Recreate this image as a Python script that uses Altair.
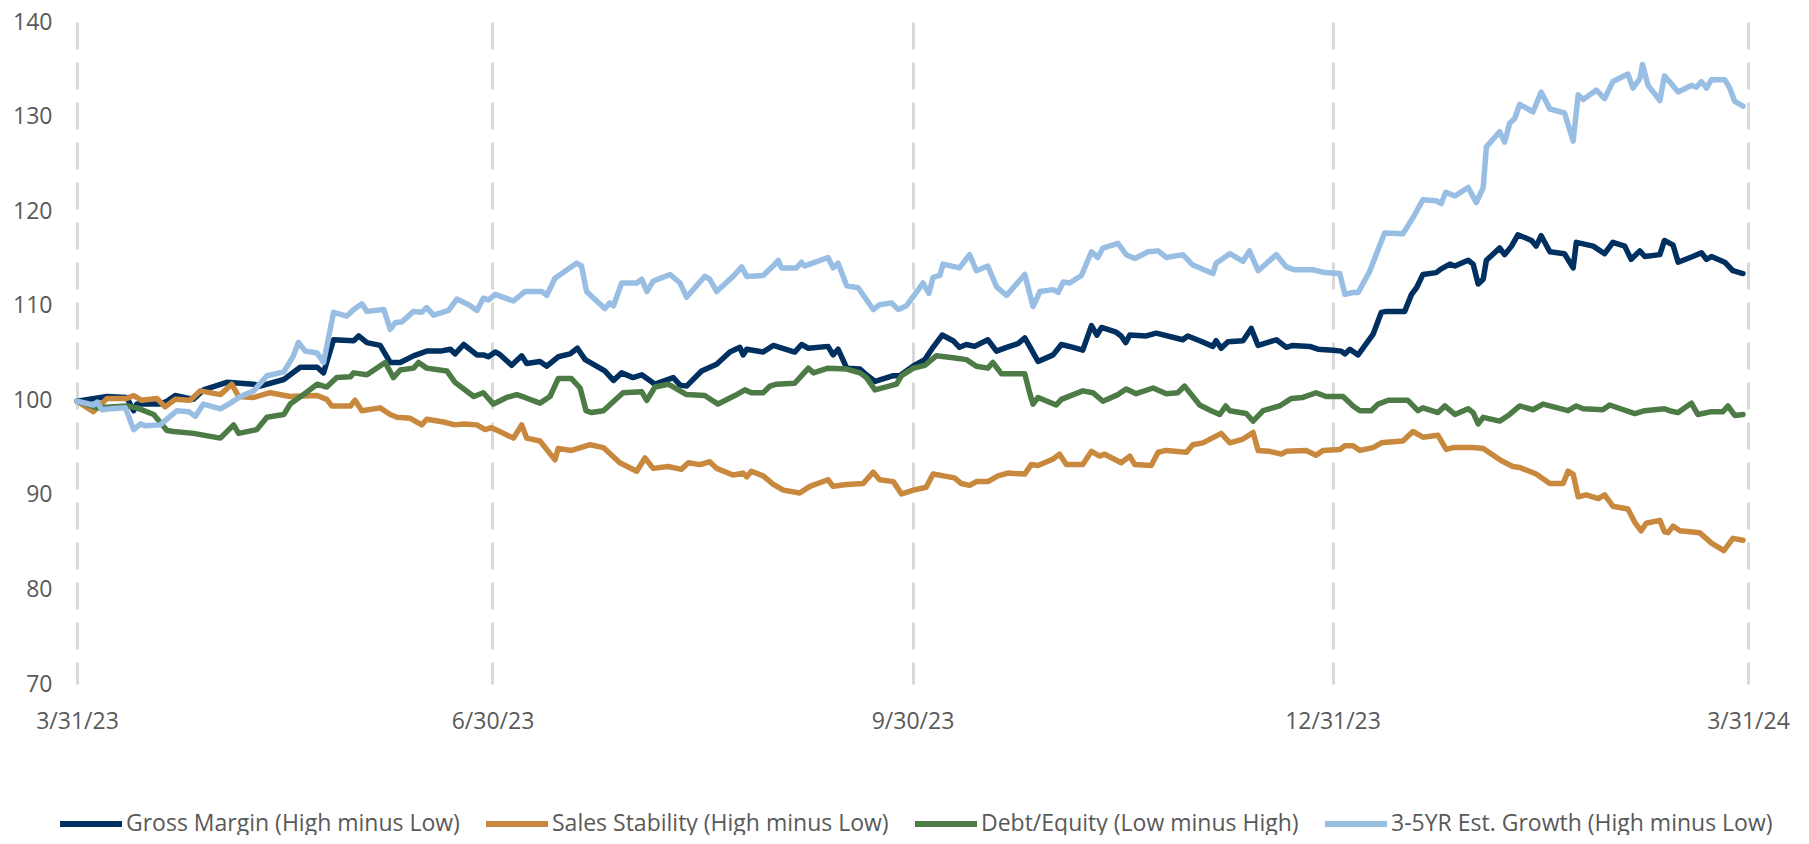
import altair as alt
import pandas as pd

# Day offsets from 3/31/23 and index values
gm_days = [0, 6.6, 10.9, 12.4, 13.1, 18.2, 19.7, 21.5, 25.5, 27.7, 32.8, 38.7, 40.1, 45.3, 48.9, 52.6, 54, 56.2, 60.6, 61.7, 63.5, 66.4, 68.6, 70.8, 73.7, 76.6, 79.6, 81.8, 82.8, 84.7, 87.6, 89, 90.1, 91.6,
           92.6, 95.2, 97.4, 98.5, 101.4, 102.9, 105.4, 108, 109.6, 111.3, 115.6, 117.5, 119.3, 121.8, 123.7, 126.6, 130.6, 132.1, 133.5, 136.8, 140.1, 143, 145.2, 145.9, 146.7, 150.3, 152.5, 157.2, 158.7, 160.2, 164.5, 165.6, 166.7, 168.6, 171.5, 172.9, 174.8, 178.8, 180.2,
           183.1, 185.7, 187.5, 189.5, 191.9, 193.3, 194.8, 196.6, 199.5, 201.4, 203.6, 206.1, 207.6, 209.0, 210.5, 213.8, 215.6, 218.2, 220.3, 222.2, 223.4, 224.4, 227.6, 228.7, 229.7, 230.6, 234.2, 236.4, 242.2, 243.3, 245.9, 248.8, 249.5, 250.6, 252.1, 255.4, 257.2, 258.7, 262.7, 264.9, 266.3, 270, 271.8,
           275.1, 276.9, 277.7, 278.8, 280.6, 283.9, 285.7, 286.8, 290.8, 292.3, 293.4, 294.8, 297.7, 298.8, 300.7, 301.8, 304.7, 305.8, 306.9, 308, 308.7, 311.6, 312.7, 314.2, 315.6, 318.6, 319.6, 320.7, 322.6, 325.8, 327.7, 328.4, 332.1, 334.6, 336.4, 339, 340.4, 342.3, 343.4, 346.7, 347.7, 349.6, 350.7, 353.9, 355.8, 356.9, 358, 360.9, 362.7, 364.9]
gm_vals = [99.9, 100.4, 100.3, 98.9, 99.6, 99.6, 99.9, 100.5, 100.1, 101.1, 101.9, 101.7, 101.5, 102.2, 103.5, 103.5, 102.9, 106.4, 106.3, 106.8, 106.1, 105.8, 104.0, 104.0, 104.7, 105.2, 105.2, 105.4, 104.9, 105.9, 104.8, 104.8, 104.6, 105.1,
           104.85, 103.7, 104.7, 103.9, 104.1, 103.6, 104.6, 104.9, 105.5, 104.3, 103.1, 102.1, 102.9, 102.4, 102.7, 101.7, 102.4, 101.6, 101.5, 103.1, 103.8, 105.1, 105.6, 104.8, 105.4, 105.1, 105.8, 105.1, 105.9, 105.5, 105.7, 104.8, 105.4, 103.4, 103.3, 102.7, 102.0, 102.6, 102.6,
           103.6, 104.3, 105.6, 106.9, 106.3, 105.6, 105.9, 105.7, 106.4, 105.2, 105.6, 106.0, 106.6, 105.4, 104.1, 104.8, 105.9, 105.6, 105.3, 107.9, 106.9, 107.7, 107.2, 106.8, 106.1, 106.9, 106.8, 107.1, 106.4, 106.8, 106.3, 105.7, 106.3, 105.5, 106.2, 106.3, 107.6, 105.8, 106.4, 105.6, 105.8, 105.7, 105.4,
           105.3, 105.2, 104.9, 105.4, 104.8, 107.0, 109.3, 109.4, 109.4, 111.2, 111.9, 113.3, 113.5, 113.9, 114.4, 114.2, 114.8, 114.4, 112.3, 112.8, 114.8, 116.1, 115.4, 116.3, 117.5, 116.9, 116.3, 117.4, 115.7, 115.5, 114.0, 116.7, 116.3, 115.5, 116.7, 116.3, 114.9, 115.8, 115.2, 115.4, 116.9, 116.4, 114.6, 115.2, 115.6, 114.9, 115.2, 114.6, 113.7, 113.4]

ss_days = [0, 3.6, 6.6, 10.9, 12.4, 14.2, 17.5, 19.3, 21.5, 24.8, 27.0, 31.4, 33.9, 35.4, 38.7, 42.3, 46.7, 52.6, 54.7, 55.8, 59.9, 60.9, 62.4, 66.4, 68.6, 70.1, 73.0, 75.5, 76.6, 80.3, 82.8, 84.7, 87.6, 89.4,
           90.8, 92.6, 95.6, 97.4, 98.5, 101.4, 104.7, 105.4, 108.3, 112.4, 115.3, 118.9, 122.6, 124.4, 126.2, 129.5, 132.4, 133.9, 136.4, 138.6, 140.1, 143.7, 145.9, 146.7, 147.7, 150.3, 152.5, 154.7, 158.3, 160.5, 164.5, 165.6, 168.6, 172.2, 174.4, 175.8, 178.8, 180.6,
           183.2, 186.0, 187.5, 192.2, 193.7, 195.5, 197.0, 199.5, 201.7, 203.9, 207.6, 209.0, 210.5, 213.8, 215.2, 216.7, 220.3, 222.2, 224.0, 225.1, 228.7, 230.6, 231.7, 235.3, 236.8, 238.6, 243.0, 244.4, 246.6, 250.6, 252.5, 255.4, 257.6, 258.7, 261.2, 263.8, 264.9, 269.2, 271.4, 272.9,
           276.6, 277.7, 279.5, 281.0, 283.9, 285.7, 287.5, 290.4, 292.6, 294.8, 298.1, 299.9, 301.4, 305.8, 308.0, 312.0, 314.5, 316.0, 319.6, 322.6, 325.5, 326.6, 327.7, 328.8, 330.6, 333.2, 334.6, 336.4, 339.7, 341.2, 342.6, 343.7, 346.7, 347.7, 348.5, 349.6, 351.1, 355.4, 358.0, 360.7, 362.7, 364.9]
ss_vals = [99.9, 98.8, 100.2, 100.2, 100.5, 100.0, 100.2, 99.3, 100.1, 100.0, 101.0, 100.6, 101.7, 100.4, 100.3, 100.8, 100.4, 100.5, 100.1, 99.4, 99.4, 100.0, 98.9, 99.2, 98.5, 98.2, 98.1, 97.4, 98.0, 97.7, 97.4, 97.5, 97.4, 96.9,
           97.1, 96.7, 96.0, 97.4, 96.0, 95.7, 93.7, 94.9, 94.7, 95.3, 95.0, 93.4, 92.5, 93.9, 92.8, 93.0, 92.7, 93.4, 93.2, 93.5, 92.8, 92.1, 92.3, 91.9, 92.5, 92.0, 91.1, 90.5, 90.2, 90.9, 91.6, 90.9, 91.1, 91.2, 92.4, 91.6, 91.4, 90.1,
           90.5, 90.8, 92.2, 91.8, 91.2, 91.0, 91.4, 91.4, 92.0, 92.3, 92.2, 93.2, 93.1, 93.8, 94.3, 93.2, 93.2, 94.6, 94.1, 94.3, 93.4, 94.1, 93.2, 93.1, 94.5, 94.7, 94.5, 95.3, 95.5, 96.5, 95.5, 95.9, 96.6, 94.7, 94.6, 94.3, 94.6, 94.7, 94.2, 94.7,
           94.8, 95.2, 95.2, 94.7, 95.0, 95.5, 95.6, 95.7, 96.7, 96.1, 96.3, 94.8, 95.0, 95.0, 94.9, 93.6, 93.0, 92.9, 92.2, 91.2, 91.2, 92.5, 92.2, 89.8, 90.0, 89.6, 90.0, 88.8, 88.5, 87.1, 86.2, 87.0, 87.3, 86.1, 86.0, 86.7, 86.2, 86.0, 84.9, 84.1, 85.4, 85.2]

de_days = [0, 4.4, 10.9, 13.1, 16.8, 19.7, 21.2, 25.5, 31.4, 34.3, 35.4, 39.4, 41.6, 45.3, 46.7, 49.6, 52.6, 54.7, 56.9, 59.9, 60.6, 63.5, 67.5, 69.3, 70.8, 73.7, 74.8, 76.6, 81.0, 82.8, 86.9, 89.0, 91.2,
           94.1, 96.3, 98.1, 101.4, 103.6, 105.4, 108.3, 110.2, 111.5, 112.7, 115.3, 119.6, 123.7, 124.8, 126.6, 129.5, 132.1, 133.5, 137.5, 140.4, 144.1, 146.3, 147.7, 150.3, 151.8, 153.2, 157.2, 160.2, 161.3, 164.5, 168.6, 171.5, 172.9, 174.8, 179.5, 180.6,
           183.2, 185.7, 188.2, 191.9, 194.8, 197.0, 199.5, 200.6, 202.5, 207.6, 208.7, 209.4, 210.5, 214.5, 215.6, 220.3, 222.5, 224.7, 228.0, 229.8, 232.0, 235.7, 238.6, 241.1, 242.6, 245.9, 248.4, 250.3, 251.6, 252.5, 256.1, 257.6, 259.8, 263.4, 266.0, 268.5, 271.4, 273.6,
           277.3, 279.5, 281.0, 283.5, 285.0, 287.2, 291.5, 293.7, 294.8, 298.1, 299.6, 301.8, 304.7, 305.8, 306.9, 308.0, 311.6, 313.8, 316.0, 318.9, 321.1, 326.6, 328.4, 329.9, 334.2, 335.7, 341.2, 343.4, 347.7, 348.8, 350.7, 353.6, 355.0, 358.0, 360.5, 361.6, 363.1, 364.9]
de_vals = [99.9, 99.2, 99.4, 99.2, 98.5, 96.8, 96.7, 96.5, 96.0, 97.4, 96.5, 96.9, 98.2, 98.5, 99.6, 100.6, 101.7, 101.4, 102.4, 102.5, 102.9, 102.7, 104.0, 102.4, 103.2, 103.4, 104.0, 103.4, 103.1, 101.9, 100.4, 100.8, 99.6,
           100.3, 100.6, 100.3, 99.7, 100.4, 102.3, 102.3, 101.3, 98.9, 98.7, 98.9, 100.8, 100.9, 100.0, 101.4, 101.7, 101.0, 100.6, 100.5, 99.6, 100.5, 101.1, 100.8, 100.8, 101.5, 101.7, 101.8, 103.4, 102.9, 103.4, 103.3, 102.9, 102.4, 101.1, 101.7, 102.6,
           103.4, 103.7, 104.7, 104.5, 104.3, 103.6, 103.4, 104.0, 102.8, 102.8, 100.7, 99.6, 100.3, 99.5, 100.1, 101.0, 100.8, 99.9, 100.6, 101.2, 100.7, 101.3, 100.7, 100.8, 101.5, 99.5, 98.9, 98.5, 99.4, 98.9, 98.6, 97.8, 98.9, 99.4, 100.2, 100.3, 100.8, 100.4,
           100.4, 99.4, 98.9, 98.9, 99.6, 100.0, 100.0, 98.9, 99.2, 98.7, 99.4, 98.5, 99.1, 98.7, 97.5, 98.2, 97.8, 98.5, 99.4, 99.0, 99.6, 98.9, 99.4, 99.1, 99.0, 99.5, 98.6, 98.9, 99.1, 98.9, 98.7, 99.7, 98.5, 98.8, 98.8, 99.4, 98.4, 98.5]

gr_days = [0, 3.6, 4.4, 5.5, 7.3, 10.6, 12.4, 13.9, 15.0, 18.2, 21.9, 24.5, 25.9, 27.7, 31.4, 33.6, 35.8, 38.7, 41.6, 45.3, 47.4, 48.5, 50.0, 52.6, 54.0, 56.2, 59.1, 60.6, 62.4, 63.5, 67.2, 68.6, 69.7, 71.2, 73.7, 75.5, 76.6, 78.1, 81.4, 83.2, 85.8, 87.6, 89.0, 90.1, 91.6,
           95.6, 98.1, 101.8, 102.9, 104.7, 109.4, 110.5, 111.6, 115.6, 116.7, 117.5, 119.3, 122.6, 123.7, 124.8, 126.2, 129.9, 132.1, 133.5, 137.5, 138.6, 140.1, 143.7, 145.6, 146.7, 150.3, 152.9, 153.6, 154.3, 157.6, 158.7, 159.4, 160.5, 164.5, 165.6, 166.7, 168.6, 171.1, 174.4, 175.8, 178.4, 179.9, 181.7,
           185.3, 186.6, 187.5, 189.0, 189.7, 193.3, 195.5, 197.0, 199.5, 201.4, 203.6, 207.6, 209.4, 210.9, 213.8, 214.9, 216.0, 217.4, 220.0, 222.2, 223.6, 224.7, 228.0, 229.8, 231.7, 234.6, 236.8, 238.6, 242.2, 244.4, 248.8, 249.5, 252.5, 255.4, 256.8, 258.7, 262.7, 264.9, 266.7, 270.7, 273.3,
           276.6, 277.7, 279.5, 280.6, 283.1, 286.4, 290.4, 292.6, 294.8, 297.7, 298.8, 299.8, 301.8, 304.7, 306.5, 308.0, 308.7, 311.6, 312.7, 313.8, 314.9, 316.0, 318.9, 320.7, 322.6, 325.8, 327.7, 328.8, 329.9, 332.8, 334.6, 336.4, 339.7, 340.8, 342.3, 342.9, 344.1, 346.7, 347.7, 348.8, 350.7, 353.6, 354.7, 355.8, 356.9, 358.0, 360.9, 362.0, 363.1, 364.9]
gr_vals = [99.9, 99.5, 99.8, 99.0, 99.1, 99.2, 96.9, 97.5, 97.3, 97.4, 98.9, 98.8, 98.3, 99.6, 99.1, 99.7, 100.4, 101.0, 102.6, 103.0, 104.7, 106.1, 105.2, 105.0, 104.0, 109.3, 108.9, 109.6, 110.2, 109.4, 109.6, 107.5, 108.2, 108.3, 109.4, 109.3, 109.8, 109.0, 109.5, 110.7, 110.1, 109.5, 110.8, 110.6, 111.2,
           110.5, 111.5, 111.5, 111.1, 112.9, 114.5, 114.2, 111.5, 109.7, 110.3, 110.0, 112.4, 112.4, 112.8, 111.5, 112.6, 113.3, 112.4, 110.9, 113.1, 112.8, 111.5, 113.1, 114.1, 113.1, 113.2, 114.4, 114.8, 114.0, 114.0, 114.6, 114.2, 114.4, 115.1, 114.0, 114.5, 112.1, 111.9, 109.6, 110.1, 110.3, 109.6, 110.0,
           112.4, 111.3, 113.0, 113.2, 114.4, 114.0, 115.4, 113.7, 114.2, 112.0, 111.1, 113.3, 109.9, 111.5, 111.7, 111.4, 112.5, 112.4, 113.2, 115.7, 115.1, 116.1, 116.6, 115.4, 115.0, 115.7, 115.8, 115.1, 115.4, 114.3, 113.4, 114.5, 115.5, 114.7, 115.8, 113.7, 115.4, 114.1, 113.8, 113.8, 113.5,
           113.4, 111.2, 111.4, 111.4, 113.6, 117.7, 117.6, 119.3, 121.2, 121.1, 120.8, 122.0, 121.6, 122.5, 120.9, 122.5, 126.8, 128.4, 127.3, 129.3, 129.8, 131.3, 130.5, 132.6, 130.8, 130.4, 127.4, 132.3, 131.8, 132.8, 131.9, 133.7, 134.5, 133.0, 134.0, 135.5, 133.3, 131.7, 134.3, 133.7, 132.6, 133.3, 133.1, 133.7, 133.0, 133.9, 133.9, 133.0, 131.6, 131.1]

series_names = [
    "Gross Margin (High minus Low)",
    "Sales Stability (High minus Low)",
    "Debt/Equity (Low minus High)",
    "3-5YR Est. Growth (High minus Low)",
]
series_colors = ["#00305F", "#C8893E", "#4D7B46", "#99BEE3"]
y_ticks = [70, 80, 90, 100, 110, 120, 130, 140]

start = pd.Timestamp("2023-03-31")
frames = []
for name, days, vals in zip(series_names, [gm_days, ss_days, de_days, gr_days],
                            [gm_vals, ss_vals, de_vals, gr_vals]):
    frames.append(pd.DataFrame({
        "date": start + pd.to_timedelta(days, unit="D"),
        "value": vals,
        "series": name,
    }))
df = pd.concat(frames, ignore_index=True)

quarter_ends = [
    alt.DateTime(year=2023, month=3, date=31),
    alt.DateTime(year=2023, month=6, date=30),
    alt.DateTime(year=2023, month=9, date=30),
    alt.DateTime(year=2023, month=12, date=31),
    alt.DateTime(year=2024, month=3, date=31),
]

FONT = "Open Sans"
GRAY = "#595959"

chart = alt.Chart(df).mark_line(strokeWidth=5.5, strokeJoin="round", strokeCap="round").encode(
    x=alt.X("date:T",
            scale=alt.Scale(domain=[quarter_ends[0], quarter_ends[-1]]),
            axis=alt.Axis(values=quarter_ends, format="%-m/%-d/%y", title=None,
                          grid=True, gridColor="#d9d9d9", gridWidth=3, gridDash=[27, 13],
                          ticks=False, domain=False, labelFlush=False, labelOverlap=False,
                          labelFont=FONT, labelFontSize=23, labelColor=GRAY, labelPadding=26)),
    y=alt.Y("value:Q",
            scale=alt.Scale(domain=[70, 140], nice=False, zero=False),
            axis=alt.Axis(values=y_ticks, title=None, grid=False, ticks=False, domain=False,
                          labelFont=FONT, labelFontSize=23, labelColor=GRAY, labelPadding=25)),
    color=alt.Color("series:N",
                    scale=alt.Scale(domain=series_names, range=series_colors),
                    sort=series_names,
                    legend=alt.Legend(title=None, orient="none", legendX=-20, legendY=768,
                                      direction="horizontal", symbolType="stroke",
                                      symbolSize=3844, symbolStrokeWidth=6,
                                      labelFont=FONT, labelFontSize=23, labelColor=GRAY,
                                      labelLimit=0, labelOffset=1, columnPadding=14)),
).properties(
    width=1671,
    height=662,
    autosize=alt.AutoSizeParams(type="none"),
    padding={"left": 69, "top": 14, "right": 53, "bottom": 151},
).configure_view(stroke=None)

chart.save("out.html", embed_options={"renderer": "svg", "actions": False})
